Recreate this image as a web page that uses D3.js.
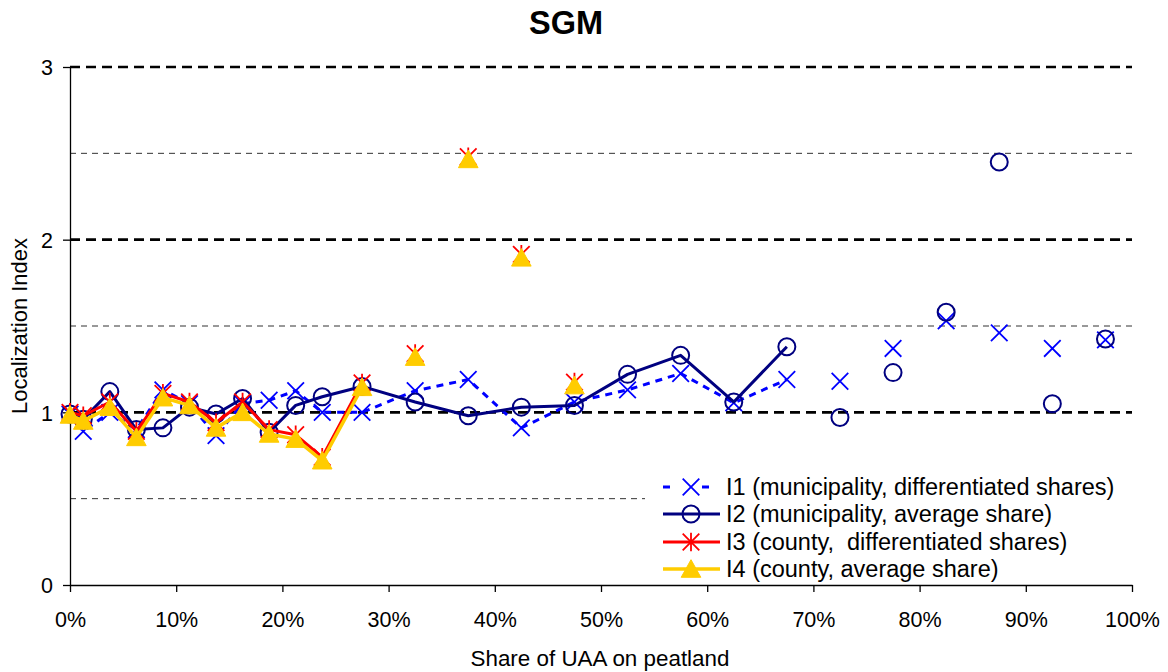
<!DOCTYPE html>
<html>
<head>
<meta charset="utf-8">
<script src="https://cdn.jsdelivr.net/npm/d3@7/dist/d3.min.js"></script>
<style>
  body { margin: 0; background: #fff; }
  svg { display: block; font-family: "Liberation Sans", Arial, sans-serif; }
</style>
</head>
<body>
<svg id="chart" width="1168" height="672"></svg>
<script>
// ---- data ----
const shares = [0, 1.25, 3.75, 6.25, 8.75, 11.25, 13.75, 16.25, 18.75, 21.25, 23.75, 27.5,
  32.5, 37.5, 42.5, 47.5, 52.5, 57.5, 62.5, 67.5, 72.5, 77.5, 82.5, 87.5, 92.5, 97.5];
const i1 = [0.99, 0.89, 1.0, 0.9, 1.13, 1.05, 0.865, 1.05, 1.07, 1.125, 1.0, 1.0,
  1.125, 1.19, 0.91, 1.06, 1.13, 1.225, 1.055, 1.19, 1.18, 1.37, 1.53, 1.46, 1.37, 1.42];
const i2 = [0.99, 0.96, 1.12, 0.9, 0.91, 1.03, 0.99, 1.08, 0.885, 1.04, 1.09, 1.15,
  1.06, 0.98, 1.03, 1.04, 1.22, 1.33, 1.06, 1.38, 0.97, 1.23, 1.58, 2.45, 1.05, 1.425];
const i3 = [1.0, 0.98, 1.06, 0.89, 1.11, 1.06, 0.94, 1.06, 0.9, 0.87, 0.74, 1.17,
  1.34, 2.48, 1.915, 1.175, null, null, null, null, null, null, null, null, null, null];
const i4 = [0.985, 0.95, 1.03, 0.855, 1.085, 1.04, 0.91, 1.0, 0.875, 0.845, 0.72, 1.145,
  1.32, 2.465, 1.895, 1.155, null, null, null, null, null, null, null, null, null, null];
// last share value up to which each series is connected by a line
const lineUntil = [67.5, 67.5, 27.5, 27.5];
const seriesNames = ["I1 (municipality, differentiated shares)", "I2 (municipality, average share)",
  "I3 (county,  differentiated shares)", "I4 (county, average share)"];
const xTicks = [0, 10, 20, 30, 40, 50, 60, 70, 80, 90, 100];
const yTicks = [0, 1, 2, 3];
const majorGrid = [1, 2, 3];
const minorGrid = [0.5, 1.5, 2.5];
const title = "SGM";
const xTitle = "Share of UAA on peatland";
const yTitle = "Localization Index";

// ---- layout ----
const L = 70, R = 1132, T = 67, B = 585;
const svg = d3.select("#chart");
const x = d3.scaleLinear().domain([0, 100]).range([L, R]);
const y = d3.scaleLinear().domain([0, 3]).range([B, T]);

const styles = [
  { color: "#0000FF", width: 3, dash: "7,6", marker: "x" },
  { color: "#000080", width: 3, dash: null, marker: "circle" },
  { color: "#FF0000", width: 3, dash: null, marker: "star" },
  { color: "#FFCC00", width: 3.5, dash: null, marker: "triangle" }
];

// title
svg.append("text").attr("x", 566).attr("y", 34).attr("text-anchor", "middle")
  .attr("font-size", 32.5).attr("font-weight", "bold").text(title);

// grid
const g = svg.append("g");
g.selectAll(".minor").data(minorGrid).join("line")
  .attr("x1", L).attr("x2", R).attr("y1", d => y(d)).attr("y2", d => y(d))
  .attr("stroke", "#333").attr("stroke-width", 1).attr("stroke-dasharray", "6,5");
g.selectAll(".major").data(majorGrid).join("line")
  .attr("x1", L).attr("x2", R).attr("y1", d => y(d)).attr("y2", d => y(d))
  .attr("stroke", "#000").attr("stroke-width", 2.6).attr("stroke-dasharray", "10,6");

// axes
const xAxis = svg.append("g").attr("transform", `translate(0,${B})`)
  .call(d3.axisBottom(x).tickValues(xTicks).tickFormat(d => d + "%").tickSize(7).tickSizeOuter(0));
const yAxis = svg.append("g").attr("transform", `translate(${L},0)`)
  .call(d3.axisLeft(y).tickValues(yTicks).tickFormat(d3.format("d")).tickSize(7).tickSizeOuter(0));
[xAxis, yAxis].forEach(a => {
  a.select(".domain").attr("stroke", "#000").attr("stroke-width", 1.3);
  a.selectAll(".tick line").attr("stroke", "#000").attr("stroke-width", 1.3);
  a.selectAll("text").attr("font-size", 21.5).attr("font-family", "Liberation Sans, Arial, sans-serif").attr("fill", "#000");
});
xAxis.selectAll("text").attr("dy", null).attr("y", 42);
yAxis.selectAll("text").attr("x", -17).attr("dy", "0.36em");

svg.append("text").attr("x", 600).attr("y", 666).attr("text-anchor", "middle")
  .attr("font-size", 22.4).text(xTitle);
svg.append("text").attr("transform", `translate(27,326) rotate(-90)`)
  .attr("text-anchor", "middle").attr("font-size", 22).text(yTitle);

// markers
function drawMarker(sel, type, color) {
  const s = 8.3;
  if (type === "x") {
    sel.append("path").attr("d", `M${-s},${-s}L${s},${s}M${-s},${s}L${s},${-s}`)
      .attr("stroke", color).attr("stroke-width", 1.8).attr("fill", "none");
  } else if (type === "circle") {
    sel.append("circle").attr("r", 8.5).attr("fill", "none")
      .attr("stroke", color).attr("stroke-width", 2);
  } else if (type === "star") {
    sel.append("path").attr("d", `M${-s},${-s}L${s},${s}M${-s},${s}L${s},${-s}M0,${-s - 1}L0,${s + 1}`)
      .attr("stroke", color).attr("stroke-width", 1.8).attr("fill", "none");
  } else if (type === "triangle") {
    sel.append("path").attr("d", `M0,${-s - 1}L${s + 1.5},${s}L${-s - 1.5},${s}Z`)
      .attr("fill", color).attr("stroke", color).attr("stroke-width", 1);
  }
}

const allSeries = [i1, i2, i3, i4];
const plot = svg.append("g");
allSeries.forEach((vals, si) => {
  const st = styles[si];
  const pts = shares.map((s, i) => ({ s, v: vals[i] })).filter(d => d.v !== null);
  const linePts = pts.filter(d => d.s <= lineUntil[si]);
  plot.append("path").datum(linePts)
    .attr("d", d3.line().x(d => x(d.s)).y(d => y(d.v)))
    .attr("fill", "none").attr("stroke", st.color).attr("stroke-width", st.width)
    .attr("stroke-linejoin", "round")
    .attr("stroke-dasharray", st.dash);
  plot.append("g").selectAll("g").data(pts).join("g")
    .attr("transform", d => `translate(${x(d.s)},${y(d.v)})`)
    .each(function () { drawMarker(d3.select(this), st.marker, st.color); });
});

// legend
const lg = svg.append("g");
lg.append("rect").attr("x", 645).attr("y", 470).attr("width", R - 645 + 1).attr("height", 113).attr("fill", "#fff");
const rowsY = [487, 514, 542, 569];
seriesNames.forEach((name, i) => {
  const st = styles[i];
  const yy = rowsY[i];
  lg.append("line").attr("x1", 663).attr("x2", st.dash ? 712 : 720).attr("y1", yy).attr("y2", yy)
    .attr("stroke", st.color).attr("stroke-width", st.width).attr("stroke-dasharray", st.dash ? "7,32" : null);
  const m = lg.append("g").attr("transform", `translate(691,${yy})`);
  drawMarker(m, st.marker, st.color);
  lg.append("text").attr("x", 726).attr("y", yy).attr("dy", "0.36em")
    .attr("font-size", 23.5).style("white-space", "pre").text(name);
});
</script>
</body>
</html>
